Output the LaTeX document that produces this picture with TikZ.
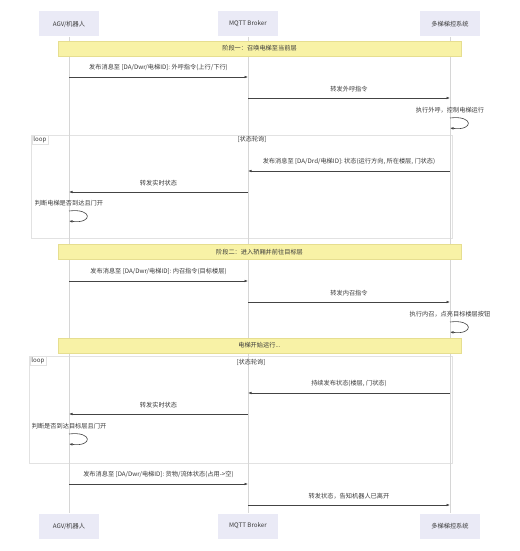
\documentclass[tikz,border=0pt]{standalone}
\usepackage{fontspec}
\setmainfont{Noto Sans CJK SC}
\usetikzlibrary{arrows.meta,positioning}
\definecolor{actorfill}{HTML}{EAEAF6}
\definecolor{notefill}{HTML}{F8F2A6}
\definecolor{notedraw}{HTML}{E6DE90}
\definecolor{lifegray}{HTML}{D6D6D6}
\definecolor{loopgray}{HTML}{E2E2E2}
\definecolor{msggray}{HTML}{444444}
\definecolor{textgray}{HTML}{3A3A3A}

\begin{document}
\begin{tikzpicture}[x=1pt, y=-1pt, font=\fontsize{6.2}{7}\selectfont,
    actor_style/.style={rectangle, fill=actorfill, minimum width=60pt, minimum height=25pt, inner sep=0pt, text=textgray},
    note_style/.style={rectangle, draw=notedraw, fill=notefill, minimum width=403pt, minimum height=15pt, inner sep=0pt, text=textgray},
    life_style/.style={draw=lifegray, line width=0.6pt},
    msg_style/.style={draw=msggray, line width=0.6pt, -{Latex[length=3.5pt,width=2.6pt]}},
    loop_style/.style={draw=loopgray, line width=0.6pt},
    label_style/.style={text=textgray, inner sep=1pt}]

	\useasboundingbox[fill=white] (0,0) rectangle (519,551);

	% participants
	\node[actor_style] (agv_top) at (69,24) {AGV/机器人};
	\node[actor_style] (mqtt_top) at (248,24) {MQTT Broker};
	\node[actor_style] (sys_top) at (450,24) {多梯梯控系统};
	\node[actor_style] (agv_bot) at (69,526) {AGV/机器人};
	\node[actor_style] (mqtt_bot) at (248,526) {MQTT Broker};
	\node[actor_style] (sys_bot) at (450,526) {多梯梯控系统};

	% loop frames
	\draw[loop_style] (31,135) rectangle (452,238);
	\draw[loop_style] (29,356) rectangle (452,463);

	\draw[life_style] (agv_top) -- (agv_bot);
	\draw[life_style] (mqtt_top) -- (mqtt_bot);
	\draw[life_style] (sys_top) -- (sys_bot);

	\node[label_style, draw=loopgray, fill=white, inner sep=1.5pt] (loop1) at (40,139.5) {loop};
	\node[label_style] (cond1) at (252,139.5) {[状态轮询]};
	\node[label_style, draw=loopgray, fill=white, inner sep=1.5pt] (loop2) at (38,360.5) {loop};
	\node[label_style] (cond2) at (251,362) {[状态轮询]};

	% phase one
	\node[note_style] (phase1) at (259.5,48.5) {阶段一：召唤电梯至当前层};

	\coordinate (m1_s) at (69,77);
	\coordinate (m1_e) at (248,77);
	\draw[msg_style] (m1_s) -- node[label_style, above=5pt]{发布消息至 [DA/Dwr/电梯ID]: 外呼指令(上行/下行)} (m1_e);

	\coordinate (m2_s) at (248,98);
	\coordinate (m2_e) at (450,98);
	\draw[msg_style] (m2_s) -- node[label_style, above=5pt]{转发外呼指令} (m2_e);

	\node[label_style] (self1) at (450,110) {执行外呼，控制电梯运行};
	\coordinate (s1_s) at (450,118);
	\coordinate (s1_e) at (450,128);
	\draw[msg_style] (s1_s) .. controls (474,115) and (474,131) .. (s1_e);

	\coordinate (m3_s) at (450,171);
	\coordinate (m3_e) at (248,171);
	\draw[msg_style] (m3_s) -- node[label_style, above=5pt]{发布消息至 [DA/Drd/电梯ID]: 状态(运行方向, 所在楼层, 门状态)} (m3_e);

	\coordinate (m4_s) at (248,192);
	\coordinate (m4_e) at (69,192);
	\draw[msg_style] (m4_s) -- node[label_style, above=5pt]{转发实时状态} (m4_e);

	\node[label_style] (self2) at (69,203) {判断电梯是否到达且门开};
	\coordinate (s2_s) at (69,211);
	\coordinate (s2_e) at (69,221);
	\draw[msg_style] (s2_s) .. controls (93,208) and (93,224) .. (s2_e);

	% phase two
	\node[note_style] (phase2) at (259.5,252) {阶段二：进入轿厢并前往目标层};

	\coordinate (m5_s) at (69,281);
	\coordinate (m5_e) at (248,281);
	\draw[msg_style] (m5_s) -- node[label_style, above=5pt]{发布消息至 [DA/Dwr/电梯ID]: 内召指令(目标楼层)} (m5_e);

	\coordinate (m6_s) at (248,302);
	\coordinate (m6_e) at (450,302);
	\draw[msg_style] (m6_s) -- node[label_style, above=5pt]{转发内召指令} (m6_e);

	\node[label_style] (self3) at (450,314) {执行内召，点亮目标楼层按钮};
	\coordinate (s3_s) at (450,322);
	\coordinate (s3_e) at (450,332);
	\draw[msg_style] (s3_s) .. controls (474,319) and (474,335) .. (s3_e);

	\node[note_style] (running) at (259.5,345.5) {电梯开始运行...};

	\coordinate (m7_s) at (450,393);
	\coordinate (m7_e) at (248,393);
	\draw[msg_style] (m7_s) -- node[label_style, above=5pt]{持续发布状态(楼层, 门状态)} (m7_e);

	\coordinate (m8_s) at (248,414);
	\coordinate (m8_e) at (69,414);
	\draw[msg_style] (m8_s) -- node[label_style, above=5pt]{转发实时状态} (m8_e);

	\node[label_style] (self4) at (69,426) {判断是否到达目标层且门开};
	\coordinate (s4_s) at (69,434);
	\coordinate (s4_e) at (69,444);
	\draw[msg_style] (s4_s) .. controls (93,431) and (93,447) .. (s4_e);

	% leaving
	\coordinate (m9_s) at (69,484);
	\coordinate (m9_e) at (248,484);
	\draw[msg_style] (m9_s) -- node[label_style, above=5pt]{发布消息至 [DA/Dwr/电梯ID]: 货物/流体状态(占用->空)} (m9_e);

	\coordinate (m10_s) at (248,505);
	\coordinate (m10_e) at (450,505);
	\draw[msg_style] (m10_s) -- node[label_style, above=5pt]{转发状态，告知机器人已离开} (m10_e);
\end{tikzpicture}
\end{document}
